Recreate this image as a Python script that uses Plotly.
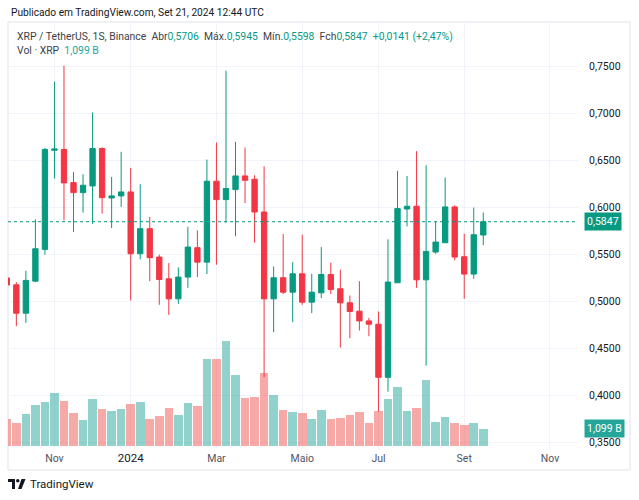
import pandas as pd
import plotly.graph_objects as go

# weekly XRP/USDT candles (Binance), week starting Monday
weeks = pd.date_range("2023-10-02", periods=51, freq="7D")

opens = [0.5250, 0.5177, 0.4876, 0.5216, 0.5553, 0.6605, 0.6614, 0.6262, 0.6156, 0.6227,
         0.6624, 0.6099, 0.6121, 0.6163, 0.5507, 0.5773, 0.5472, 0.5241, 0.5028, 0.5259,
         0.5571, 0.5418, 0.6277, 0.6082, 0.6188, 0.6333, 0.6298, 0.5950, 0.5028, 0.5252,
         0.5099, 0.5294, 0.4993, 0.5092, 0.5287, 0.5135, 0.4986, 0.4897, 0.4794, 0.4759,
         0.4195, 0.5199, 0.5982, 0.6011, 0.5230, 0.5525, 0.5624, 0.6004, 0.5475, 0.5291,
         0.5706]
highs = [0.5300, 0.5206, 0.5326, 0.5872, 0.6631, 0.7333, 0.7504, 0.6376, 0.6351, 0.7007,
         0.6638, 0.6323, 0.6589, 0.6418, 0.6245, 0.5897, 0.5497, 0.5408, 0.5362, 0.5794,
         0.5755, 0.6507, 0.6688, 0.7450, 0.6695, 0.6635, 0.6340, 0.6436, 0.5372, 0.5716,
         0.5418, 0.5709, 0.5294, 0.5578, 0.5411, 0.5337, 0.5064, 0.5216, 0.4826, 0.4894,
         0.5660, 0.6387, 0.6333, 0.6596, 0.6447, 0.5851, 0.6316, 0.6021, 0.5720, 0.5997,
         0.5945]
lows = [0.5120, 0.4738, 0.4773, 0.5206, 0.5497, 0.6305, 0.5862, 0.5738, 0.5943, 0.5826,
        0.5933, 0.5780, 0.6004, 0.5011, 0.5447, 0.5216, 0.4965, 0.4858, 0.4975, 0.5145,
        0.5259, 0.5291, 0.5390, 0.5837, 0.5692, 0.6046, 0.5624, 0.4195, 0.4674, 0.5078,
        0.4780, 0.4965, 0.4876, 0.5036, 0.5078, 0.4511, 0.4610, 0.4692, 0.4631, 0.3830,
        0.4043, 0.5199, 0.5798, 0.5145, 0.4319, 0.5507, 0.5624, 0.5436, 0.5028, 0.5241,
        0.5598]
closes = [0.5175, 0.4876, 0.5224, 0.5560, 0.6614, 0.6620, 0.6259, 0.6156, 0.6234, 0.6624,
          0.6103, 0.6121, 0.6163, 0.5507, 0.5773, 0.5465, 0.5234, 0.5028, 0.5259, 0.5578,
          0.5418, 0.6277, 0.6082, 0.6199, 0.6333, 0.6287, 0.5950, 0.5028, 0.5252, 0.5099,
          0.5294, 0.4993, 0.5099, 0.5287, 0.5128, 0.4986, 0.4894, 0.4794, 0.4759, 0.4195,
          0.5206, 0.5986, 0.6011, 0.5230, 0.5532, 0.5631, 0.6004, 0.5472, 0.5291, 0.5709,
          0.5847]
# volume, billions of XRP
volumes = [1.68, 1.47, 2.00, 2.61, 2.78, 3.37, 2.82, 2.08, 1.64, 2.99,
           2.36, 2.23, 2.34, 2.65, 2.78, 1.68, 1.87, 2.40, 1.98, 2.72,
           2.51, 5.52, 5.52, 6.65, 4.51, 3.05, 3.09, 4.63, 3.20, 2.27,
           2.13, 2.06, 1.68, 2.30, 1.68, 1.75, 1.96, 2.17, 1.47, 2.19,
           2.95, 3.75, 2.23, 2.40, 4.19, 1.54, 1.81, 1.47, 1.31, 1.47,
           1.099]

tick_dates = ["2023-11-06", "2024-01-01", "2024-03-04", "2024-05-06",
              "2024-07-01", "2024-09-02", "2024-11-04"]
tick_text = ["Nov", "<span style='color:#131722;font-size:11.5px'>2024</span>",
             "Mar", "Maio", "Jul", "Set", "Nov"]
price_ticks = [0.35, 0.40, 0.45, 0.50, 0.55, 0.60, 0.65, 0.70, 0.75]

UP = "#089981"
DOWN = "#f23645"
VOL_UP = "rgba(38,166,154,0.5)"
VOL_DOWN = "rgba(239,83,80,0.5)"
FONT = "Roboto"
TXT = "#131722"

# plot area in pixels: x 8..578, y 22..449
L, R, T, B = 8, 578, 22, 449


def px(x):
    return (x - L) / (R - L)


def py(y):
    return (B - y) / (B - T)


fig = go.Figure()

fig.add_trace(
    go.Bar(
        x=weeks,
        y=volumes,
        width=6.3 * 86400000,
        marker={"color": [VOL_UP if c >= o else VOL_DOWN for o, c in zip(opens, closes)],
                "line": {"width": 0}},
        yaxis="y",
        showlegend=False,
        hoverinfo="skip",
    )
)

fig.add_trace(
    go.Candlestick(
        x=weeks,
        open=opens,
        high=highs,
        low=lows,
        close=closes,
        increasing={"line": {"color": UP, "width": 1}, "fillcolor": UP},
        decreasing={"line": {"color": DOWN, "width": 1}, "fillcolor": DOWN},
        whiskerwidth=0,
        yaxis="y2",
        showlegend=False,
    )
)

annotations = [
    dict(text="Publicado em TradingView.com, Set 21, 2024 12:44 UTC",
         x=px(9), y=py(13), font={"size": 10.2, "color": TXT}),
    dict(text=("XRP / TetherUS, 1S, Binance&nbsp;&nbsp;"
               f"Abr<span style='color:{UP}'>0,5706</span>&nbsp;&nbsp;"
               f"Máx.<span style='color:{UP}'>0,5945</span>&nbsp;&nbsp;"
               f"Mín.<span style='color:{UP}'>0,5598</span>&nbsp;&nbsp;"
               f"Fch<span style='color:{UP}'>0,5847</span>&nbsp;&nbsp;"
               f"<span style='color:{UP}'>+0,0141 (+2,47%)</span>"),
         x=px(15), y=py(36), font={"size": 10.4, "color": "#3c3f48"}),
    dict(text="Vol · XRP&nbsp;&nbsp;<span style='color:#26a69a'>1,099 B</span>",
         x=px(15), y=py(51), font={"size": 10.4, "color": "#3c3f48"}),
    dict(text="TradingView", x=px(28), y=py(484),
         font={"size": 11.5, "color": TXT}),
]
for a in annotations:
    a.update(xref="paper", yref="paper", xanchor="left", yanchor="middle",
             showarrow=False)

# last price / last volume labels on the scale
annotations.append(dict(text="0,5847", xref="paper", yref="y2", x=px(584), y=closes[-1],
                        xanchor="left", yanchor="middle", showarrow=False,
                        bgcolor=UP, borderpad=2, font={"size": 10.5, "color": "white"}))
annotations.append(dict(text="1,099 B", xref="paper", yref="y", x=px(584), y=volumes[-1],
                        xanchor="left", yanchor="middle", showarrow=False,
                        bgcolor="#26a69a", borderpad=2, font={"size": 10.5, "color": "white"}))

shapes = [
    # chart frame
    dict(type="rect", xref="paper", yref="paper", x0=px(8), x1=px(630), y0=py(470), y1=py(22),
         line={"color": "#e0e3eb", "width": 1}, layer="below"),
    # last price line
    dict(type="line", xref="paper", yref="y2", x0=0, x1=1, y0=closes[-1], y1=closes[-1],
         line={"color": UP, "width": 1, "dash": "dot"}),
    # logo mark
    dict(type="path", xref="paper", yref="paper", fillcolor=TXT, line={"width": 0},
         path=(f"M{px(8)},{py(479)} L{px(15)},{py(479)} L{px(15)},{py(489)} L{px(12)},{py(489)} "
               f"L{px(12)},{py(482)} L{px(8)},{py(482)} Z")),
    dict(type="circle", xref="paper", yref="paper", fillcolor=TXT, line={"width": 0},
         x0=px(16), x1=px(19.5), y0=py(482.5), y1=py(479)),
    dict(type="path", xref="paper", yref="paper", fillcolor=TXT, line={"width": 0},
         path=(f"M{px(21.5)},{py(479)} L{px(25.5)},{py(479)} L{px(21.5)},{py(489)} "
               f"L{px(18)},{py(489)} Z")),
]

fig.update_layout(
    width=639,
    height=500,
    margin={"l": L, "r": 639 - R, "t": T, "b": 500 - B},
    paper_bgcolor="white",
    plot_bgcolor="white",
    font={"family": FONT, "size": 11, "color": TXT},
    separators=",.",
    bargap=0,
    boxgap=0.2,
    showlegend=False,
    annotations=annotations,
    shapes=shapes,
    xaxis={
        "type": "date",
        "range": ["2023-10-02 21:00", "2024-11-24 14:00"],
        "tickvals": tick_dates,
        "ticktext": tick_text,
        "tickfont": {"size": 10.5, "color": "#50535e"},
        "showgrid": True,
        "gridcolor": "#f0f3fa",
        "zeroline": False,
        "showline": False,
        "ticks": "",
        "ticklabelstandoff": 1,
        "rangeslider": {"visible": False},
        "fixedrange": True,
    },
    yaxis={
        "range": [-0.19, 26.78],
        "visible": False,
        "showgrid": False,
        "fixedrange": True,
    },
    yaxis2={
        "overlaying": "y",
        "side": "right",
        "range": [0.34342, 0.79671],
        "tickvals": price_ticks,
        "tickformat": ".4f",
        "tickfont": {"size": 10.5, "color": TXT},
        "showgrid": True,
        "gridcolor": "#f0f3fa",
        "zeroline": False,
        "ticks": "",
        "ticklabelstandoff": 10,
        "fixedrange": True,
    },
)

fig.write_html("out.html", config={"displayModeBar": False},
               post_script="document.body.style.margin='0';")
